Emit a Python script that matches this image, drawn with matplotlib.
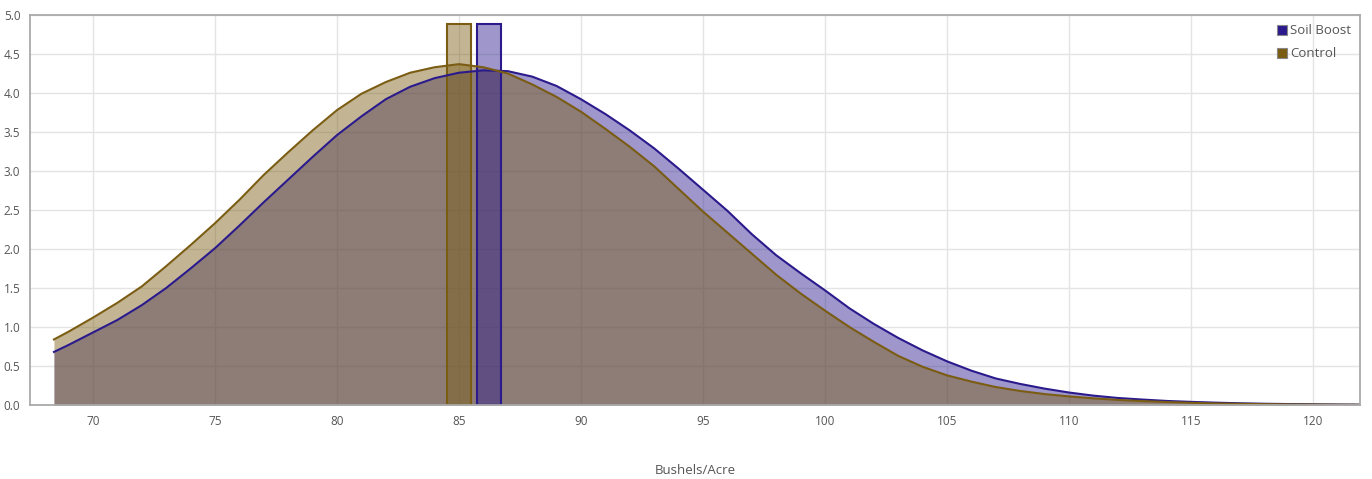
import matplotlib

matplotlib.use("Agg")

import matplotlib.pyplot as plt
from matplotlib.lines import Line2D

plt.rcParams["font.family"] = ["Open Sans", "DejaVu Sans"]

# values
x_vals = [68.4, 69, 70, 71, 72, 73, 74, 75, 76, 77, 78, 79, 80, 81, 82, 83, 84, 85,
          86, 87, 88, 89, 90, 91, 92, 93, 94, 95, 96, 97, 98, 99, 100, 101, 102, 103,
          104, 105, 106, 107, 108, 109, 110, 111, 112, 113, 114, 115, 116, 117, 118,
          119, 120, 121, 122]
control = [0.84, 0.94, 1.12, 1.31, 1.52, 1.78, 2.05, 2.33, 2.63, 2.95, 3.24, 3.52,
           3.78, 3.99, 4.14, 4.26, 4.33, 4.37, 4.33, 4.25, 4.11, 3.95, 3.76, 3.54,
           3.31, 3.06, 2.77, 2.48, 2.21, 1.94, 1.67, 1.43, 1.21, 1.00, 0.81, 0.63,
           0.49, 0.38, 0.30, 0.23, 0.18, 0.14, 0.11, 0.085, 0.065, 0.05, 0.038, 0.028,
           0.02, 0.015, 0.011, 0.008, 0.006, 0.004, 0.003]
soil_boost = [0.68, 0.77, 0.93, 1.09, 1.28, 1.50, 1.75, 2.01, 2.30, 2.60, 2.89, 3.18,
              3.46, 3.70, 3.92, 4.08, 4.19, 4.26, 4.29, 4.28, 4.21, 4.09, 3.92, 3.73,
              3.52, 3.29, 3.03, 2.76, 2.49, 2.19, 1.92, 1.69, 1.47, 1.24, 1.04, 0.86,
              0.70, 0.56, 0.44, 0.34, 0.27, 0.21, 0.16, 0.12, 0.09, 0.07, 0.052, 0.04,
              0.03, 0.022, 0.016, 0.012, 0.009, 0.006, 0.004]

mean_labels = ["Soil Boost", "Control"]
mean_positions = [86.23, 85.0]
mean_heights = [4.88, 4.88]

SOIL_COLOR = "#2a1a8c"
CONTROL_COLOR = "#7a5c12"
TEXT_COLOR = "#555555"

fig = plt.figure(figsize=(13.72, 4.79), dpi=100)
ax = fig.add_axes([0.0219, 0.1545, 0.9694, 0.8142])

ax.fill_between(x_vals, soil_boost, color=SOIL_COLOR, alpha=0.45, linewidth=0)
ax.plot(x_vals, soil_boost, color=SOIL_COLOR, linewidth=1.5)
ax.fill_between(x_vals, control, color=CONTROL_COLOR, alpha=0.45, linewidth=0)
ax.plot(x_vals, control, color=CONTROL_COLOR, linewidth=1.5)

bar_colors = [SOIL_COLOR, CONTROL_COLOR]
for pos, height, color in zip(mean_positions, mean_heights, bar_colors):
    ax.bar(pos, height, width=1.0, color=color, alpha=0.45, linewidth=0)
    ax.bar(pos, height, width=1.0, facecolor="none", edgecolor=color, linewidth=1.5)

ax.set_xlim(67.42, 121.93)
ax.set_ylim(0, 5)
ax.set_xticks(range(70, 121, 5))
ax.set_yticks([i * 0.5 for i in range(11)])
ax.set_yticklabels([f"{i * 0.5:.1f}" for i in range(11)])
ax.tick_params(length=0, labelsize=8.5, labelcolor=TEXT_COLOR, pad=7)
ax.grid(True, color="#e4e4e4", linewidth=1.0)
ax.set_axisbelow(True)
for spine in ax.spines.values():
    spine.set_color("#aaaaaa")
    spine.set_linewidth(1.3)

fig.text(0.5066, 1 - 470 / 479, "Bushels/Acre", fontsize=9.5, color=TEXT_COLOR,
         ha="center", va="center")

handles = [
    Line2D([], [], marker="s", linestyle="none", markersize=7,
           markerfacecolor=color, markeredgecolor="#888888", markeredgewidth=0.8)
    for color in bar_colors
]
ax.legend(handles, mean_labels, loc="upper right", frameon=False, fontsize=9.5,
          labelcolor=TEXT_COLOR, handletextpad=0.1, borderaxespad=0.3,
          labelspacing=0.75, handlelength=1.0)

fig.savefig("out.png", dpi=100)
